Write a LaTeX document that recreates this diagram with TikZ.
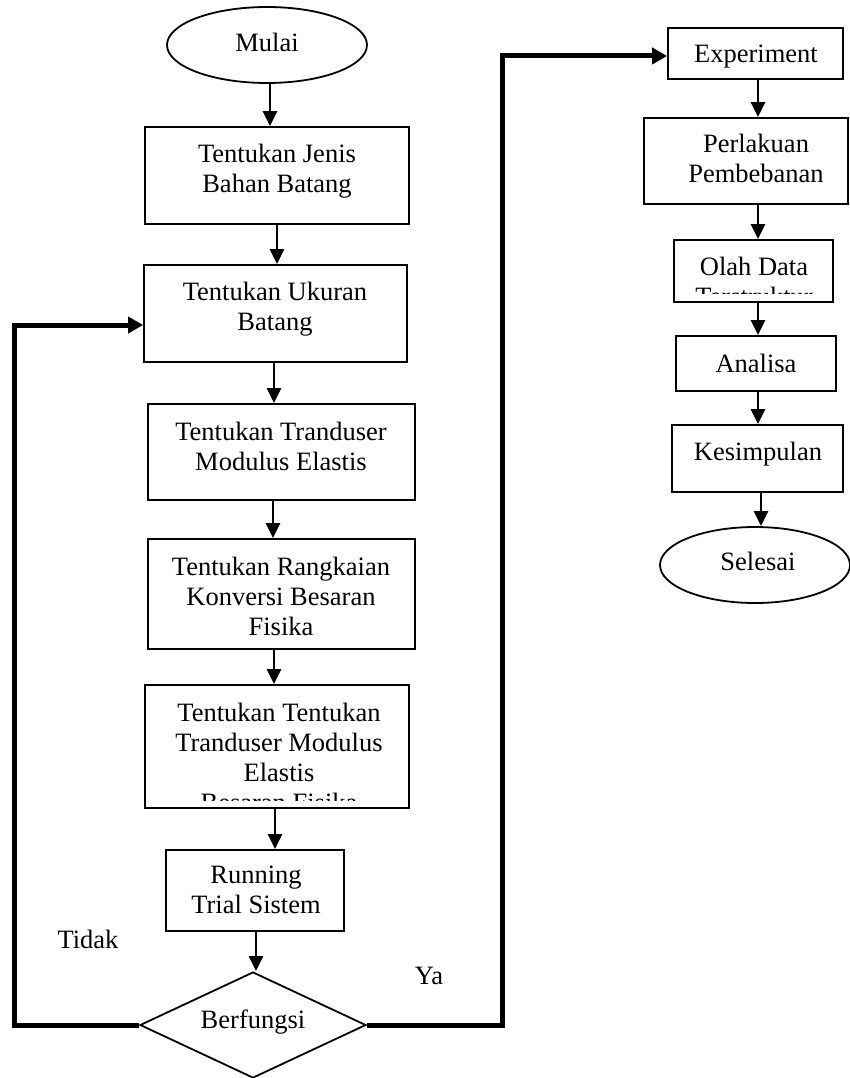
\documentclass[tikz,border=0pt]{standalone}
\usepackage{fontspec}
\setmainfont{Liberation Serif}
\usetikzlibrary{shapes.geometric,arrows.meta,calc}
\newcommand{\stack}[1]{\begin{tabular}[t]{@{}c@{}}#1\end{tabular}}

\begin{document}
\begin{tikzpicture}[x=1pt,y=-1pt,
  box/.style={draw, rectangle, line width=1.8pt, inner sep=0pt},
  oval/.style={draw, ellipse, line width=1.8pt, inner sep=0pt},
  txt/.style={font=\fontsize{26.5}{30}\selectfont, inner sep=0pt, anchor=base},
  arr/.style={line width=2.4pt, -{Triangle[length=15pt,width=14pt]}},
  back/.style={line width=5pt, line join=miter, -{Triangle[length=15pt,width=16pt]}}]
\useasboundingbox (0,0) rectangle (850,1078);

% ---- left column: shapes
\node[oval, minimum width=200pt, minimum height=76pt] (mulai) at (267,45) {};
\node[box, minimum width=264pt, minimum height=97pt]  (b1) at (277,175.5) {};
\node[box, minimum width=263pt, minimum height=97pt]  (b2) at (275.5,313.5) {};
\node[box, minimum width=267pt, minimum height=96pt]  (b3) at (281.5,452) {};
\node[box, minimum width=267pt, minimum height=110pt] (b4) at (281.5,594) {};
\node[box, minimum width=264pt, minimum height=123pt] (b5) at (277,746.5) {};
\node[box, minimum width=178pt, minimum height=81pt]  (b6) at (255,890.5) {};
\node[draw, diamond, line width=1.8pt, inner sep=0pt,
      minimum width=226pt, minimum height=106pt] (dec) at (253,1025) {};

% ---- left column: texts
\node[txt] (mulaiT) at (267,52) {Mulai};
\node[txt] (b1T) at (277,163) {\stack{Tentukan Jenis\\Bahan Batang}};
\node[txt] (b2T) at (275,300) {\stack{Tentukan Ukuran\\Batang}};
\node[txt] (b3T) at (281,440) {\stack{Tentukan Tranduser\\Modulus Elastis}};
\node[txt] (b4T) at (281,575) {\stack{Tentukan Rangkaian\\Konversi Besaran\\Fisika}};
\begin{scope}
  \clip (146,686) rectangle (408,800);
  \node[txt] (b5T) at (279,721) {\stack{Tentukan Tentukan\\Tranduser Modulus\\Elastis\\Besaran Fisika}};
\end{scope}
\node[txt] (b6T) at (256,883) {\stack{Running\\Trial Sistem}};
\node[txt] (decT) at (253,1028) {Berfungsi};
\node[txt] (tidak) at (88,948) {Tidak};
\node[txt] (ya) at (429,984) {Ya};

% ---- right column: shapes
\node[box, minimum width=175pt, minimum height=51pt] (exp) at (755.5,53.5) {};
\node[box, minimum width=204pt, minimum height=86pt] (perl) at (746,161) {};
\node[box, minimum width=159pt, minimum height=62pt] (olah) at (753.5,271) {};
\node[box, minimum width=160pt, minimum height=55pt] (anal) at (756,363.5) {};
\node[box, minimum width=171pt, minimum height=67pt] (kes) at (757.5,458.5) {};
\node[oval, minimum width=190pt, minimum height=76pt] (sel) at (755,565) {};

% ---- right column: texts
\node[txt] (expT) at (756,63) {Experiment};
\node[txt] (perlT) at (756,153) {\stack{Perlakuan\\Pembebanan}};
\begin{scope}
  \clip (675,241) rectangle (832,293);
  \node[txt] (olahT) at (754,275) {\stack{Olah Data\\Terstruktur}};
\end{scope}
\node[txt] (analT) at (756,372) {Analisa};
\node[txt] (kesT) at (758,460) {Kesimpulan};
\node[txt] (selT) at (758,570) {Selesai};

% ---- arrow columns
\coordinate (x1) at (270,0);
\coordinate (x2) at (277,0);
\coordinate (x3) at (274,0);
\coordinate (x4) at (273,0);
\coordinate (x5) at (274,0);
\coordinate (x6) at (275,0);
\coordinate (x7) at (256,0);
\coordinate (r1) at (758,0);
\coordinate (r2) at (761,0);

\draw[arr] (mulai.south -| x1) -- (b1.north -| x1);
\draw[arr] (b1.south -| x2) -- (b2.north -| x2);
\draw[arr] (b2.south -| x3) -- (b3.north -| x3);
\draw[arr] (b3.south -| x4) -- (b4.north -| x4);
\draw[arr] (b4.south -| x5) -- (b5.north -| x5);
\draw[arr] (b5.south -| x6) -- (b6.north -| x6);
\draw[arr] (b6.south -| x7) -- (dec.north -| x7);

\draw[arr] (exp.south -| r1) -- (perl.north -| r1);
\draw[arr] (perl.south -| r1) -- (olah.north -| r1);
\draw[arr] (olah.south -| r1) -- (anal.north -| r1);
\draw[arr] (anal.south -| r1) -- (kes.north -| r1);
\draw[arr] (kes.south -| r2) -- (sel.north -| r2);

% ---- feedback and continuation lines
\coordinate (lc1) at (14,1025);
\coordinate (lc2) at (14,325);
\coordinate (rc1) at (502,1025);
\coordinate (rc2) at (502,56);
\draw[back] (dec.west) -- (lc1) -- (lc2) -- (b2.west |- lc2);
\draw[back] (dec.east) -- (rc1) -- (rc2) -- (exp.west |- rc2);
\end{tikzpicture}
\end{document}
